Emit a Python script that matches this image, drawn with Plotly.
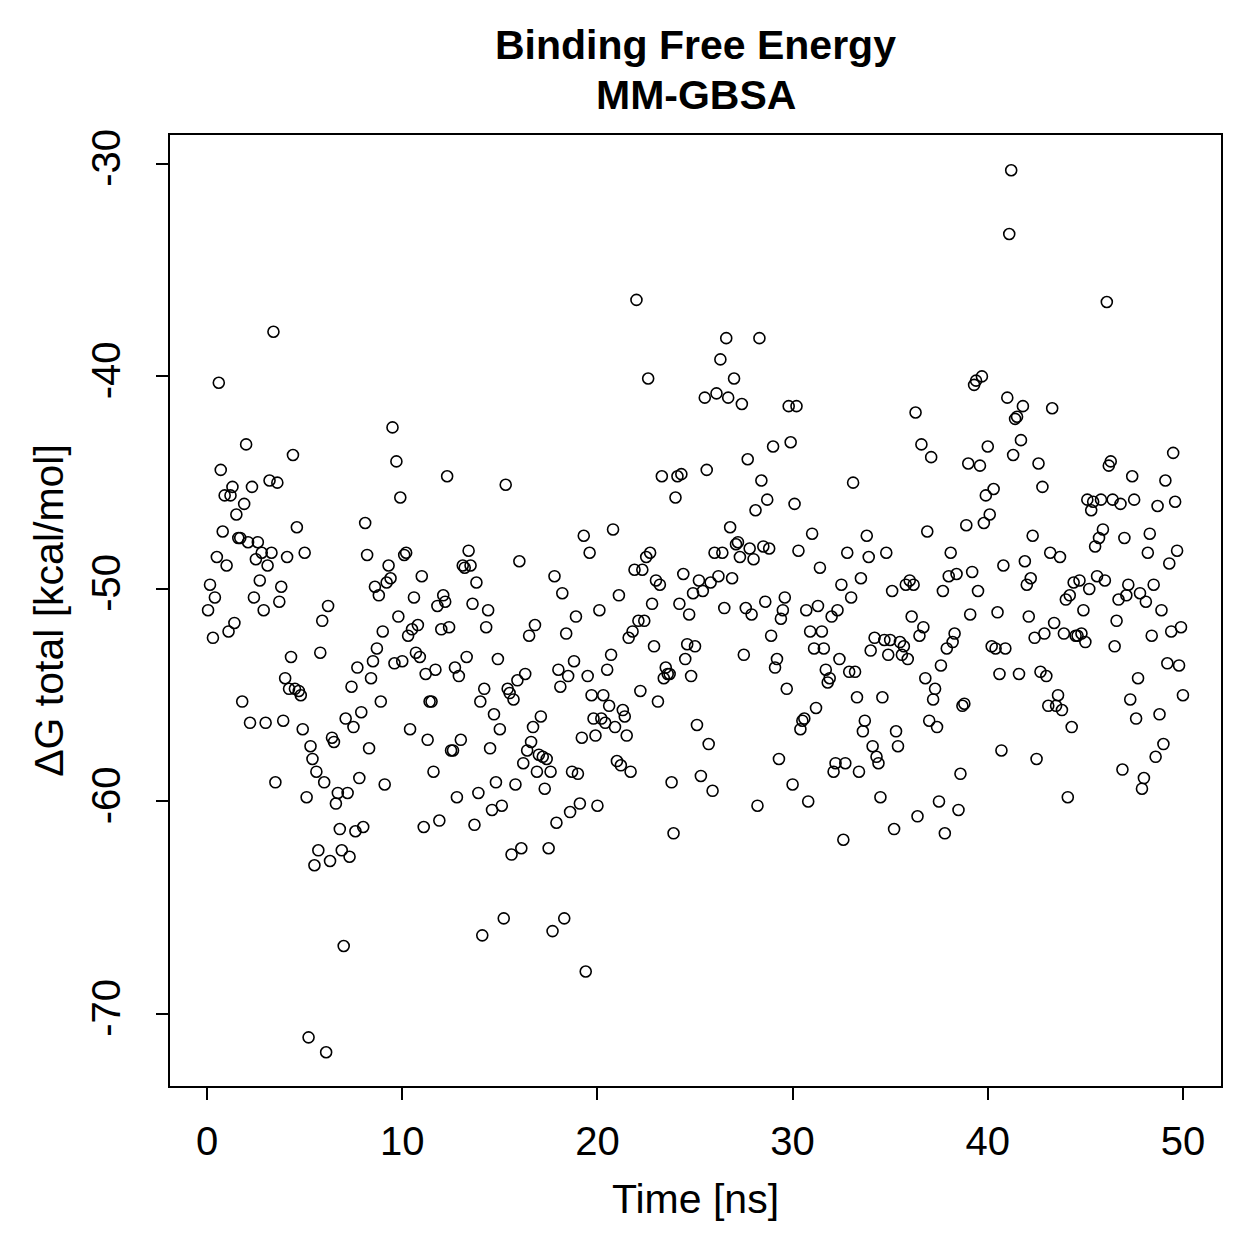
import plotly.graph_objects as go

# Time [ns] and dG total [kcal/mol]
time_ns = [
0.05,0.15,0.3,0.4,0.5,0.6,0.7,0.8,0.9,1.0,1.1,1.2,1.3,1.4,1.5,1.6,1.7,1.8,1.9,2.0,
2.1,2.2,2.3,2.4,2.5,2.6,2.7,2.8,2.9,3.0,3.1,3.2,3.3,3.4,3.5,3.6,3.7,3.8,3.9,4.0,
4.1,4.2,4.3,4.4,4.5,4.6,4.7,4.8,4.9,5.0,5.1,5.2,5.3,5.4,5.5,5.6,5.7,5.8,5.9,6.0,
6.1,6.2,6.3,6.4,6.5,6.6,6.7,6.8,6.9,7.0,7.1,7.2,7.3,7.4,7.5,7.6,7.7,7.8,7.9,8.0,
8.1,8.2,8.3,8.4,8.5,8.6,8.7,8.8,8.9,9.0,9.1,9.2,9.3,9.4,9.5,9.6,9.7,9.8,9.9,10.0,
10.1,10.2,10.3,10.4,10.5,10.6,10.7,10.8,10.9,11.0,11.1,11.2,11.3,11.4,11.5,11.6,11.7,11.8,11.9,12.0,
12.1,12.2,12.3,12.4,12.5,12.6,12.7,12.8,12.9,13.0,13.1,13.2,13.3,13.4,13.5,13.6,13.7,13.8,13.9,14.0,
14.1,14.2,14.3,14.4,14.5,14.6,14.7,14.8,14.9,15.0,15.1,15.2,15.3,15.4,15.5,15.6,15.7,15.8,15.9,16.0,
16.1,16.2,16.3,16.4,16.5,16.6,16.7,16.8,16.9,17.0,17.1,17.2,17.3,17.4,17.5,17.6,17.7,17.8,17.9,18.0,
18.1,18.2,18.3,18.4,18.5,18.6,18.7,18.8,18.9,19.0,19.1,19.2,19.3,19.4,19.5,19.6,19.7,19.8,19.9,20.0,
20.1,20.2,20.3,20.4,20.5,20.6,20.7,20.8,20.9,21.0,21.1,21.2,21.3,21.4,21.5,21.6,21.7,21.8,21.9,22.0,
22.1,22.2,22.3,22.4,22.5,22.6,22.7,22.8,22.9,23.0,23.1,23.2,23.3,23.4,23.5,23.6,23.7,23.8,23.9,24.0,
24.1,24.2,24.3,24.4,24.5,24.6,24.7,24.8,24.9,25.0,25.1,25.2,25.3,25.4,25.5,25.6,25.7,25.8,25.9,26.0,
26.1,26.2,26.3,26.4,26.5,26.6,26.7,26.8,26.9,27.0,27.1,27.2,27.3,27.4,27.5,27.6,27.7,27.8,27.9,28.0,
28.1,28.2,28.3,28.4,28.5,28.6,28.7,28.8,28.9,29.0,29.1,29.2,29.3,29.4,29.5,29.6,29.7,29.8,29.9,30.0,
30.1,30.2,30.3,30.4,30.5,30.6,30.7,30.8,30.9,31.0,31.1,31.2,31.3,31.4,31.5,31.6,31.7,31.8,31.9,32.0,
32.1,32.2,32.3,32.4,32.5,32.6,32.7,32.8,32.9,33.0,33.1,33.2,33.3,33.4,33.5,33.6,33.7,33.8,33.9,34.0,
34.1,34.2,34.3,34.4,34.5,34.6,34.7,34.8,34.9,35.0,35.1,35.2,35.3,35.4,35.5,35.6,35.7,35.8,35.9,36.0,
36.1,36.2,36.3,36.4,36.5,36.6,36.7,36.8,36.9,37.0,37.1,37.2,37.3,37.4,37.5,37.6,37.7,37.8,37.9,38.0,
38.1,38.2,38.3,38.4,38.5,38.6,38.7,38.8,38.9,39.0,39.1,39.2,39.3,39.4,39.5,39.6,39.7,39.8,39.9,40.0,
40.1,40.2,40.3,40.4,40.5,40.6,40.7,40.8,40.9,41.0,41.1,41.2,41.3,41.4,41.5,41.6,41.7,41.8,41.9,42.0,
42.1,42.2,42.3,42.4,42.5,42.6,42.7,42.8,42.9,43.0,43.1,43.2,43.3,43.4,43.5,43.6,43.7,43.8,43.9,44.0,
44.1,44.2,44.3,44.4,44.5,44.6,44.7,44.8,44.9,45.0,45.1,45.2,45.3,45.4,45.5,45.6,45.7,45.8,45.9,46.0,
46.1,46.2,46.3,46.4,46.5,46.6,46.7,46.8,46.9,47.0,47.1,47.2,47.3,47.4,47.5,47.6,47.7,47.8,47.9,48.0,
48.1,48.2,48.3,48.4,48.5,48.6,48.7,48.8,48.9,49.0,49.1,49.2,49.3,49.4,49.5,49.6,49.7,49.8,49.9,50.0,
]

dG_total = [
-51.0,-49.8,-52.3,-50.4,-48.5,-40.3,-44.4,-47.3,-45.6,-48.9,-52.0,-45.6,-45.2,-51.6,-46.5,-47.6,-47.6,-55.3,-46.0,-43.2,
-47.8,-56.3,-45.2,-50.4,-48.6,-47.8,-49.6,-48.3,-51.0,-56.3,-48.9,-44.9,-48.3,-37.9,-59.1,-45.0,-50.6,-49.9,-56.2,-54.2,
-48.5,-54.7,-53.2,-43.7,-54.7,-47.1,-54.8,-55.0,-56.6,-48.3,-59.8,-71.1,-57.4,-58.0,-63.0,-58.6,-62.3,-53.0,-51.5,-59.1,
-71.8,-50.8,-62.8,-57.0,-57.2,-60.1,-59.6,-61.3,-62.3,-66.8,-56.1,-59.6,-62.6,-54.6,-56.5,-61.4,-53.7,-58.9,-55.8,-61.2,
-46.9,-48.4,-57.5,-54.2,-53.4,-49.9,-52.8,-50.3,-55.3,-52.0,-59.2,-49.7,-48.9,-49.5,-42.4,-53.5,-44.0,-51.3,-45.7,-53.4,
-48.4,-48.3,-52.2,-56.6,-51.9,-50.4,-53.0,-51.7,-53.2,-49.4,-61.2,-54.0,-57.1,-55.3,-55.3,-58.6,-53.8,-50.8,-60.9,-51.9,
-50.3,-50.6,-44.7,-51.8,-57.6,-57.6,-53.7,-59.8,-54.1,-57.1,-48.9,-49.0,-53.2,-48.2,-48.9,-50.7,-61.1,-49.7,-59.6,-55.3,
-66.3,-54.7,-51.8,-51.0,-57.5,-60.4,-55.9,-59.1,-53.3,-56.6,-60.2,-65.5,-45.1,-54.7,-54.9,-62.5,-55.2,-59.2,-54.3,-48.7,
-62.2,-58.2,-54.0,-57.6,-52.2,-57.2,-56.5,-51.7,-58.6,-57.8,-56.0,-57.9,-59.4,-58.0,-62.2,-58.6,-66.1,-49.4,-61.0,-53.8,
-54.6,-50.2,-65.5,-52.1,-54.1,-60.5,-58.6,-53.4,-51.3,-58.7,-60.1,-57.0,-47.5,-68.0,-54.1,-48.3,-55.0,-56.1,-56.9,-60.2,
-51.0,-56.1,-55.0,-56.3,-53.8,-55.5,-53.1,-47.2,-56.5,-58.1,-50.3,-58.3,-55.7,-56.0,-56.9,-52.3,-58.6,-52.0,-49.1,-36.4,
-51.5,-54.8,-49.1,-51.5,-48.5,-40.1,-48.3,-50.7,-52.7,-49.6,-55.3,-49.8,-44.7,-54.2,-53.7,-54.0,-54.0,-59.1,-61.5,-45.7,
-44.7,-50.7,-44.6,-49.3,-53.3,-52.6,-51.2,-54.1,-50.2,-52.7,-56.4,-49.6,-58.8,-50.1,-41.0,-44.4,-57.3,-49.7,-59.5,-48.3,
-40.8,-49.4,-39.2,-48.3,-50.9,-38.2,-41.0,-47.1,-49.5,-40.1,-47.9,-47.8,-48.5,-41.3,-53.1,-50.9,-43.9,-48.1,-51.2,-48.6,
-46.3,-60.2,-38.2,-44.9,-48.0,-50.6,-45.8,-48.1,-52.2,-43.3,-53.7,-53.3,-58.0,-51.4,-51.0,-50.4,-54.7,-41.4,-43.1,-59.2,
-46.0,-41.4,-48.2,-56.6,-56.2,-56.1,-51.0,-60.0,-52.0,-47.4,-52.8,-55.6,-50.8,-49.0,-52.0,-52.8,-53.8,-54.4,-54.2,-51.3,
-58.6,-58.2,-51.0,-53.3,-49.8,-61.8,-58.2,-48.3,-53.9,-50.4,-45.0,-53.9,-55.1,-58.6,-49.5,-56.7,-56.2,-47.5,-48.5,-52.9,
-57.4,-52.3,-57.9,-58.2,-59.8,-55.1,-52.4,-48.3,-53.1,-52.4,-50.1,-61.3,-56.7,-57.4,-52.5,-53.1,-52.7,-49.8,-53.3,-49.6,
-51.3,-49.8,-41.7,-60.7,-52.2,-43.2,-51.8,-54.2,-47.3,-56.2,-43.8,-55.2,-54.7,-56.5,-60.0,-53.6,-50.1,-61.5,-52.8,-49.4,
-48.3,-52.5,-52.1,-49.3,-60.4,-58.7,-55.5,-55.4,-47.0,-44.1,-51.2,-49.2,-40.4,-40.2,-50.1,-44.2,-40.0,-46.9,-45.6,-43.3,
-46.5,-52.7,-45.3,-52.8,-51.1,-54.0,-57.6,-48.9,-52.8,-41.0,-33.3,-30.3,-43.7,-42.0,-41.9,-54.0,-43.0,-41.4,-48.7,-49.8,
-51.3,-49.5,-47.5,-52.3,-58.0,-44.1,-53.9,-45.2,-52.1,-54.1,-55.5,-48.3,-41.5,-51.6,-55.5,-55.0,-48.5,-55.7,-52.1,-50.5,
-59.8,-50.3,-56.5,-49.7,-52.2,-52.2,-49.6,-52.1,-51.0,-52.5,-45.8,-50.0,-46.3,-45.9,-48.0,-49.4,-47.6,-45.8,-47.2,-49.6,
-36.5,-44.2,-44.0,-45.8,-52.7,-51.5,-50.5,-46.0,-58.5,-47.6,-50.3,-49.8,-55.2,-44.7,-45.8,-56.1,-54.2,-50.2,-59.4,-58.9,
-50.6,-48.3,-47.4,-52.2,-49.8,-57.9,-46.1,-55.9,-51.0,-57.3,-44.9,-53.5,-48.8,-52.0,-43.6,-45.9,-48.2,-53.6,-51.8,-55.0,
]

x_ticks = [0, 10, 20, 30, 40, 50]
y_ticks = [-30, -40, -50, -60, -70]

FONT = "Liberation Sans, Arial, Helvetica, sans-serif"

fig = go.Figure()
fig.add_trace(go.Scatter(
    x=time_ns, y=dG_total, mode="markers",
    marker=dict(symbol="circle-open", size=11, color="black", line=dict(width=1.6, color="black")),
    showlegend=False,
))

fig.update_layout(
    width=1259, height=1259,
    margin=dict(l=170, r=38, t=135, b=173, pad=0),
    plot_bgcolor="white", paper_bgcolor="white",
    font=dict(family=FONT, color="black", size=40),
    annotations=[
        dict(text="<b>Binding Free Energy</b>", x=0.5, y=1 + 90/951, xref="paper", yref="paper",
             showarrow=False, font=dict(size=41, family=FONT), yanchor="middle", xanchor="center"),
        dict(text="<b>MM-GBSA</b>", x=0.5, y=1 + 40/951, xref="paper", yref="paper",
             showarrow=False, font=dict(size=41, family=FONT), yanchor="middle", xanchor="center"),
    ],
)
fig.update_xaxes(
    range=[-1.9, 51.95], tickvals=x_ticks, ticktext=[str(v) for v in x_ticks],
    showgrid=False, zeroline=False, showline=True, mirror=True, linecolor="black", linewidth=2,
    ticks="outside", ticklen=12, tickwidth=2, tickcolor="black",
    tickfont=dict(size=40), ticklabelstandoff=7,
    title=dict(text="Time [ns]", font=dict(size=41), standoff=22),
)
fig.update_yaxes(
    range=[-73.39, -28.64], tickvals=y_ticks, ticktext=[str(v) for v in y_ticks],
    showgrid=False, zeroline=False, showline=True, mirror=True, linecolor="black", linewidth=2,
    ticks="outside", ticklen=12, tickwidth=2, tickcolor="black",
    tickfont=dict(size=40), tickangle=-90, ticklabelstandoff=20,
    title=dict(text="ΔG total [kcal/mol]", font=dict(size=41), standoff=8),
)

fig.write_html("out.html")
